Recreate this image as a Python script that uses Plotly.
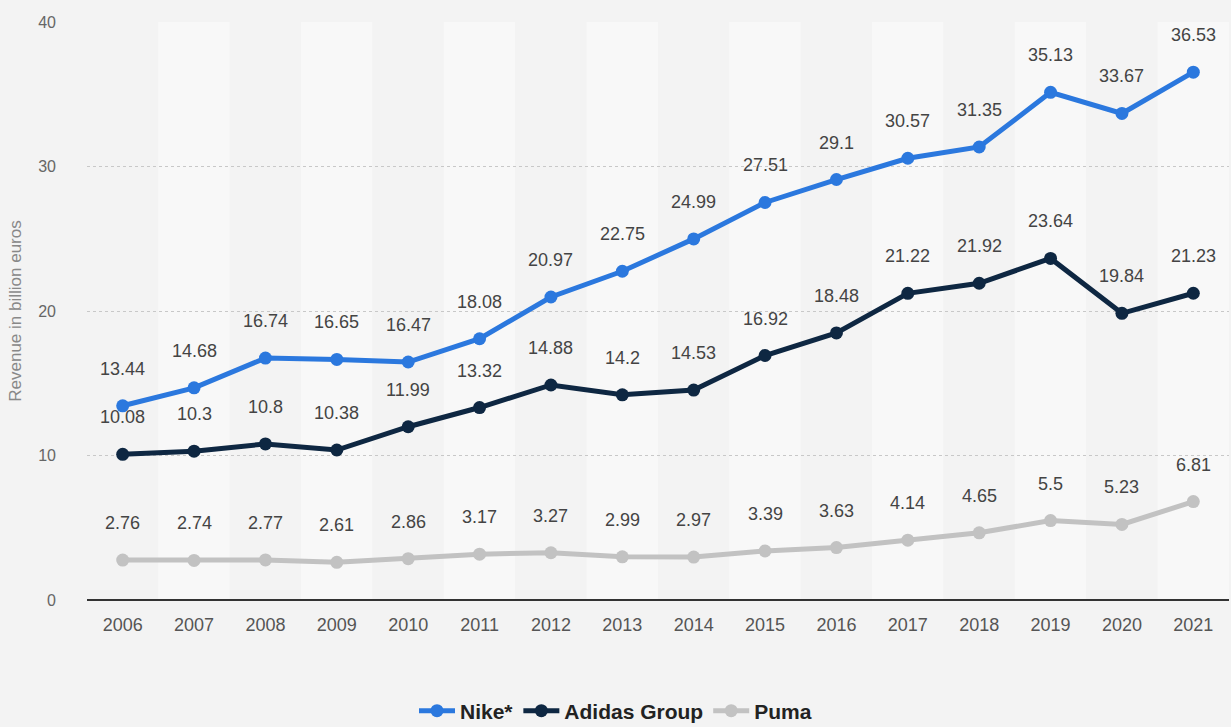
import plotly.graph_objects as go

years = list(range(2006, 2022))
nike = [13.44, 14.68, 16.74, 16.65, 16.47, 18.08, 20.97, 22.75, 24.99, 27.51, 29.1, 30.57, 31.35, 35.13, 33.67, 36.53]
adidas = [10.08, 10.3, 10.8, 10.38, 11.99, 13.32, 14.88, 14.2, 14.53, 16.92, 18.48, 21.22, 21.92, 23.64, 19.84, 21.23]
puma = [2.76, 2.74, 2.77, 2.61, 2.86, 3.17, 3.27, 2.99, 2.97, 3.39, 3.63, 4.14, 4.65, 5.5, 5.23, 6.81]
y_ticks = [0, 10, 20, 30, 40]

series = [
    ("Nike*", nike, "#2b78de"),
    ("Adidas Group", adidas, "#0e2742"),
    ("Puma", puma, "#c2c2c2"),
]

fig = go.Figure()

# alternating background bands
shapes = []
for i, yr in enumerate(years):
    shapes.append(dict(type="rect", xref="x", yref="paper", x0=yr - 0.5, x1=yr + 0.5,
                       y0=0, y1=1, fillcolor="#f3f3f3" if i % 2 == 0 else "#f8f8f8",
                       line=dict(width=0), layer="below"))

for name, vals, col in series:
    fig.add_trace(go.Scatter(x=years, y=vals, name=name, mode="lines+markers",
                             line=dict(color=col, width=5),
                             marker=dict(color=col, size=13),
                             hoverinfo="x+y"))

annotations = []
for name, vals, col in series:
    for yr, v in zip(years, vals):
        annotations.append(dict(x=yr, y=v, text=f"{v:g}", showarrow=False, yshift=37,
                                font=dict(size=18, color="#444444", family="Liberation Sans, Arial")))

fig.update_layout(
    width=1231, height=727,
    margin=dict(l=87, r=2, t=22, b=127, autoexpand=False),
    paper_bgcolor="#f3f3f3",
    plot_bgcolor="#f3f3f3",
    shapes=shapes,
    annotations=annotations,
    font=dict(family="Liberation Sans, Arial", color="#555555"),
    showlegend=True,
    legend=dict(orientation="h", x=0.5, xanchor="center", xref="container",
                y=0.022, yanchor="middle", yref="container",
                font=dict(size=21, color="#222222", weight="bold"),
                itemwidth=36, traceorder="normal", bgcolor="rgba(0,0,0,0)"),
    xaxis=dict(range=[2005.5, 2021.5], tickvals=years, ticktext=[str(y) for y in years],
               showgrid=False, zeroline=False, showline=False, ticks="",
               tickfont=dict(size=18, color="#555555"), ticklabelstandoff=12, fixedrange=True),
    yaxis=dict(range=[0, 40], tickvals=y_ticks, showgrid=True, gridcolor="#c8c8c8",
               griddash="dot", gridwidth=1, zeroline=True, zerolinecolor="#333333",
               zerolinewidth=2, ticks="", tickfont=dict(size=16, color="#666666"),
               ticklabelstandoff=30,
               title=dict(text="Revenue in billion euros", font=dict(size=17, color="#888888"),
                          standoff=12)),
)

fig.write_html("out.html")
